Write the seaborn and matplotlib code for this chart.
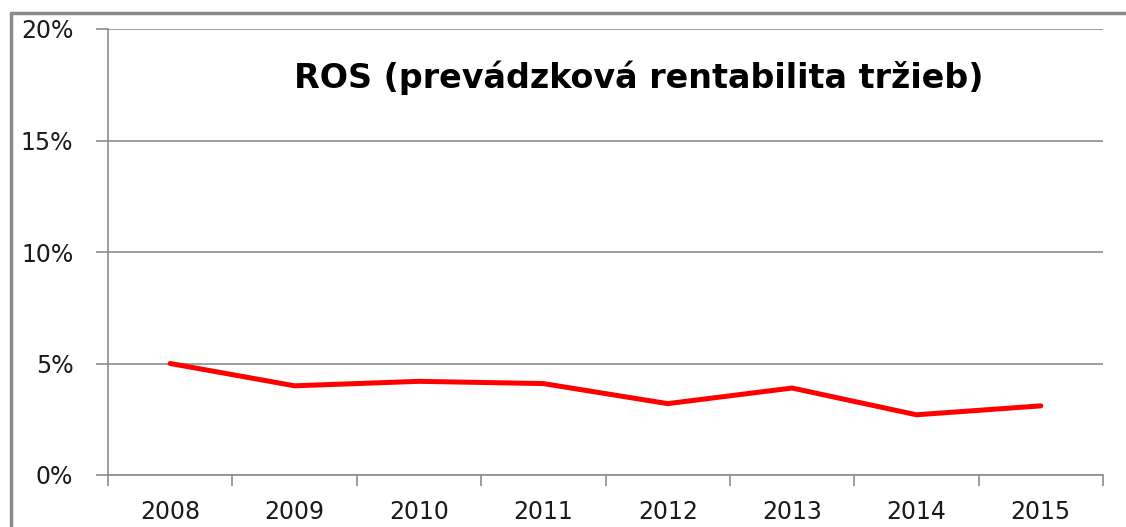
import numpy as np
import pandas as pd
import matplotlib
matplotlib.use("Agg")
import matplotlib.pyplot as plt
from matplotlib.lines import Line2D
from matplotlib.ticker import FixedLocator, PercentFormatter
import seaborn as sns

years = ["2008", "2009", "2010", "2011", "2012", "2013", "2014", "2015"]
ros = [5.0, 4.0, 4.2, 4.1, 3.2, 3.9, 2.7, 3.1]
title = "ROS (prevádzková rentabilita tržieb)"

sns.set_style("white")
plt.rcParams["font.family"] = ["DejaVu Sans"]

fig = plt.figure(figsize=(11.26, 5.27), dpi=100)
ax = fig.add_axes([108 / 1126, 1 - 475 / 527, 995 / 1126, 446 / 527])

df = pd.DataFrame({"year": years, "ros": ros})
df["pos"] = np.arange(len(years))
sns.lineplot(data=df, x="pos", y="ros", color="#ff0000", linewidth=3.6, ax=ax,
             solid_capstyle="round")

ax.set_xlim(-0.5, len(years) - 0.5)
ax.set_ylim(0, 20)
ax.set_xlabel("")
ax.set_ylabel("")

grid_c = "#8c8c8c"
# y axis
ax.set_yticks([0, 5, 10, 15, 20])
ax.yaxis.set_major_formatter(PercentFormatter(decimals=0))
ax.yaxis.grid(True, color=grid_c, linewidth=1.2)
ax.xaxis.grid(False)
# x axis: ticks at category borders, labels in the middle
ax.xaxis.set_major_locator(FixedLocator(np.arange(-0.5, len(years), 1.0)))
ax.xaxis.set_minor_locator(FixedLocator(df["pos"]))
ax.set_xticklabels([""] * (len(years) + 1))
ax.set_xticklabels(years, minor=True)
ax.tick_params(axis="x", which="major", bottom=True, length=8, width=1.2, color=grid_c,
               direction="out")
ax.tick_params(axis="x", which="minor", bottom=True, length=0, pad=18, labelsize=17,
               labelcolor="#1a1a1a")
ax.tick_params(axis="y", which="major", left=True, length=9, width=1.2, color=grid_c,
               direction="out", pad=16, labelsize=17, labelcolor="#1a1a1a")

for s in ["top", "right"]:
    ax.spines[s].set_visible(False)
for s in ["left", "bottom"]:
    ax.spines[s].set_color(grid_c)
    ax.spines[s].set_linewidth(1.2)

ax.text(0.533, 0.89, title, transform=ax.transAxes, ha="center", va="center",
        fontsize=24, fontweight="bold", color="black")

# outer chart frame (only top and left edges are visible in the crop)
fig.add_artist(Line2D([11 / 1126, 1], [1 - 13 / 527, 1 - 13 / 527], color="#8a8a8a",
                      linewidth=2.5, transform=fig.transFigure))
fig.add_artist(Line2D([11 / 1126, 11 / 1126], [0, 1 - 13 / 527], color="#8a8a8a",
                      linewidth=2.5, transform=fig.transFigure))

fig.savefig("out.png", dpi=100, facecolor="white")
